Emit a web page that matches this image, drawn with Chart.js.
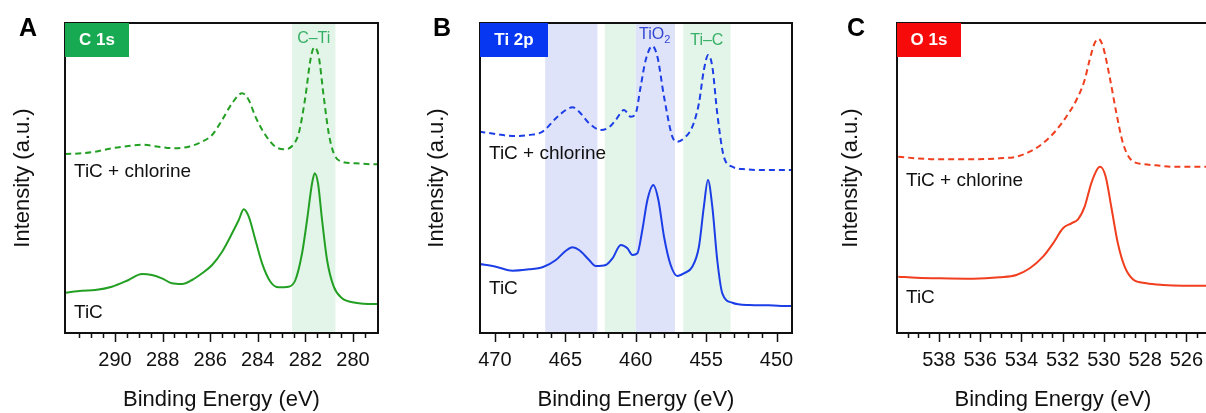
<!DOCTYPE html>
<html>
<head>
<meta charset="utf-8">
<script src="https://cdn.jsdelivr.net/npm/chart.js@4.4.1/dist/chart.umd.min.js"></script>
<style>
  html, body { margin: 0; padding: 0; background: #fff; overflow: hidden; }
  #wrap { position: relative; width: 1206px; height: 413px; overflow: hidden; }
  #wrap canvas { position: absolute; top: 0; }
</style>
</head>
<body>
<div id="wrap">
  <canvas id="c1sChart" width="400" height="413" style="left:0"></canvas>
  <canvas id="ti2pChart" width="400" height="413" style="left:400px"></canvas>
  <canvas id="o1sChart" width="412" height="413" style="left:806px"></canvas>
</div>
<script>
// ---- C 1s ----
const c1sChlorineEnergy = [292.09, 291.39, 290.83, 290.13, 289.43, 288.87, 288.17, 287.47, 286.90, 286.34, 285.92, 285.50, 285.08, 284.66, 284.38, 284.10, 283.68, 283.26, 282.91, 282.56, 282.28, 282.00, 281.79, 281.63, 281.44, 281.23, 281.02, 280.81, 280.46, 279.90, 279.13, 278.98];
const c1sChlorineCounts = [179, 179.7, 181.3, 184.7, 187, 188.3, 186.3, 184.7, 186.3, 191.3, 198, 213, 229.7, 239.7, 233, 216.3, 198, 186.3, 183.7, 187, 199.7, 236.3, 273, 285.7, 276.3, 236.3, 199.7, 179.7, 171.3, 169.7, 168.7, 168.7];
const c1sTicEnergy = [292.09, 291.39, 290.83, 290.13, 289.43, 288.87, 288.45, 288.03, 287.61, 287.18, 286.76, 286.34, 285.92, 285.50, 285.08, 284.80, 284.59, 284.38, 284.10, 283.82, 283.47, 283.12, 282.70, 282.42, 282.14, 281.93, 281.72, 281.61, 281.47, 281.30, 281.09, 280.81, 280.46, 279.90, 279.13, 278.98];
const c1sTicCounts = [40.3, 42.3, 43, 46.3, 53, 59, 58, 54.7, 49.7, 49, 53, 59.7, 68, 81.3, 99.7, 113, 123.7, 116.3, 93, 69.7, 51.3, 45.7, 46.3, 53, 79.7, 113, 149.7, 159.7, 149.7, 113, 73, 46.3, 34.7, 30.3, 29, 29];
const c1sBands = [[282.56, 280.74]];
const c1sRange = [278.95, 292.1];

// ---- Ti 2p ----
const ti2pChlorineEnergy = [471.11, 469.93, 468.75, 467.57, 466.62, 465.67, 464.96, 464.49, 464.02, 463.31, 462.48, 461.89, 461.42, 460.83, 460.35, 460.00, 459.65, 459.29, 458.82, 458.46, 457.99, 457.40, 457.04, 456.57, 455.98, 455.51, 455.16, 454.85, 454.56, 454.21, 453.74, 453.14, 452.20, 451.01, 449.24, 448.95];
const ti2pChlorineCounts = [201.3, 199, 197, 198, 201.3, 214.7, 223, 225.7, 221.3, 209.7, 203, 205.7, 213, 223, 216.3, 219.7, 246.3, 273, 287, 276.3, 236.3, 196.3, 191.3, 194.7, 206.3, 229.7, 263, 278, 266.3, 219.7, 176.3, 166.3, 163.7, 163, 163, 163];
const ti2pTicEnergy = [471.11, 469.93, 468.75, 467.57, 466.62, 465.67, 464.96, 464.49, 464.02, 463.31, 462.84, 462.13, 461.65, 461.06, 460.59, 460.23, 459.88, 459.53, 459.17, 458.75, 458.39, 457.99, 457.52, 457.04, 456.57, 455.98, 455.51, 455.16, 454.87, 454.56, 454.21, 453.85, 453.14, 451.96, 450.55, 449.13, 448.95];
const ti2pTicCounts = [69, 66.3, 62.3, 63.7, 65.7, 73, 82.3, 85.7, 83, 73, 67, 68, 74.7, 88, 84.7, 78, 79.7, 103, 133, 148, 133, 96.3, 68, 57, 59.7, 66.3, 86.3, 126.3, 153, 126.3, 73, 39.7, 30.3, 28, 27.7, 27, 27];
const ti2pBands = [[466.43, 462.72], [462.2, 460.0], [460.0, 457.21], [456.62, 453.26]];
const ti2pRange = [448.9, 471.06];

// ---- O 1s ----
const o1sChlorineEnergy = [539.97, 539.08, 537.95, 536.34, 535.05, 534.24, 533.59, 532.95, 532.30, 531.82, 531.33, 530.93, 530.69, 530.45, 530.25, 530.04, 529.72, 529.39, 529.07, 528.67, 528.11, 527.46, 526.65, 525.84, 525.12, 524.7];
const o1sChlorineCounts = [176.3, 174.7, 173.7, 173.7, 174.7, 176.3, 181.3, 189.7, 203, 216.3, 233, 253, 273, 289.7, 294, 286.3, 256.3, 219.7, 189.7, 173, 169, 167.7, 166.3, 166.3, 166.3, 166.3];
const o1sTicEnergy = [539.97, 539.08, 537.95, 536.34, 535.05, 534.24, 533.59, 532.95, 532.46, 531.98, 531.57, 531.25, 530.93, 530.61, 530.29, 530.17, 529.91, 529.64, 529.32, 528.99, 528.59, 527.94, 527.14, 526.17, 525.12, 524.7];
const o1sTicCounts = [56.3, 55.3, 54.7, 54.3, 55.7, 58, 64.7, 76.3, 89.7, 104.7, 109.7, 113.7, 126.3, 149.7, 164.7, 166.3, 156.3, 126.3, 89.7, 66.3, 53.7, 49.7, 48, 47.3, 47.3, 47.3];
const o1sRange = [524.9, 540.03];

const seriesNames = ['TiC + chlorine', 'TiC'];

const FONT = '"Liberation Sans", Arial, Helvetica, sans-serif';

function toPoints(xs, ys) {
    return xs.map((x, i) => ({ x: x, y: ys[i] }));
}

// ticks every `step`, leaving out any that would sit on the frame
function tickValues(min, max, step) {
    const out = [];
    const margin = step * 0.3;
    for (let v = Math.ceil(min / step) * step; v <= max + 1e-9; v += step) {
        const r = Math.round(v * 100) / 100;
        if (r - min > margin && max - r > margin) out.push(r);
    }
    return out;
}

// bands behind the spectra, frame/ticks/labels on top
const decor = {
    id: 'xpsDecor',
    beforeDatasetsDraw(chart, args, o) {
        const { ctx, chartArea: a, scales: { x } } = chart;
        ctx.save();
        (o.bands || []).forEach((b, i) => {
            const x1 = x.getPixelForValue(b[0]);
            const x2 = x.getPixelForValue(b[1]);
            ctx.fillStyle = o.bandColors[i];
            ctx.fillRect(Math.min(x1, x2), a.top, Math.abs(x2 - x1), a.bottom - a.top);
        });
        ctx.restore();
    },
    afterDraw(chart, args, o) {
        const { ctx, chartArea: a, scales: { x } } = chart;
        ctx.save();

        // frame
        ctx.strokeStyle = '#111';
        ctx.lineWidth = 2;
        ctx.strokeRect(a.left, a.top, a.right - a.left, a.bottom - a.top);

        // tick marks, longer on labelled ticks
        ctx.lineWidth = 1.5;
        x.ticks.forEach(t => {
            const px = Math.round(x.getPixelForValue(t.value)) + 0.5;
            const len = t.label !== '' ? 9 : 5;
            ctx.beginPath();
            ctx.moveTo(px, a.bottom);
            ctx.lineTo(px, a.bottom + len);
            ctx.stroke();
        });

        // spectrum tag box
        ctx.fillStyle = o.tagColor;
        ctx.fillRect(a.left, a.top, o.tagWidth, 34);
        ctx.fillStyle = '#fff';
        ctx.font = 'bold 17px ' + FONT;
        ctx.textAlign = 'center';
        ctx.textBaseline = 'middle';
        ctx.fillText(o.tag, a.left + o.tagWidth / 2, a.top + 17);

        // panel letter
        ctx.fillStyle = '#000';
        ctx.font = 'bold 25px ' + FONT;
        ctx.textAlign = 'center';
        ctx.textBaseline = 'alphabetic';
        ctx.fillText(o.letter, o.letterX, 36);

        // series names
        ctx.fillStyle = '#111';
        ctx.font = '19px ' + FONT;
        ctx.textAlign = 'left';
        seriesNames.forEach((name, i) => {
            ctx.fillText(name, a.left + 9, o.nameY[i]);
        });

        // peak notes
        (o.notes || []).forEach(n => {
            const cx = x.getPixelForValue(n.at);
            ctx.fillStyle = n.color;
            ctx.font = '16px ' + FONT;
            ctx.textAlign = 'left';
            const w = ctx.measureText(n.text).width;
            let sw = 0;
            if (n.sub) {
                ctx.font = '11px ' + FONT;
                sw = ctx.measureText(n.sub).width;
            }
            const left = cx - (w + sw) / 2;
            ctx.font = '16px ' + FONT;
            ctx.fillText(n.text, left, n.y);
            if (n.sub) {
                ctx.font = '11px ' + FONT;
                ctx.fillText(n.sub, left + w, n.y + 4);
            }
        });

        ctx.restore();
    }
};

function buildPanel(id, p) {
    const ctx = document.getElementById(id).getContext('2d');
    const lineBase = {
        borderColor: p.color,
        borderWidth: 2,
        pointRadius: 0,
        fill: false,
        cubicInterpolationMode: 'monotone'
    };
    return new Chart(ctx, {
        type: 'line',
        data: {
            datasets: [
                Object.assign({ label: seriesNames[0], data: toPoints(p.dashedX, p.dashedY), borderDash: [6, 4] }, lineBase),
                Object.assign({ label: seriesNames[1], data: toPoints(p.solidX, p.solidY) }, lineBase)
            ]
        },
        options: {
            responsive: false,
            animation: false,
            devicePixelRatio: 1,
            layout: { padding: { top: 23, right: p.padRight, bottom: 0, left: 0 } },
            plugins: {
                legend: { display: false },
                tooltip: { enabled: false },
                xpsDecor: p.decor
            },
            scales: {
                x: {
                    type: 'linear',
                    reverse: true,
                    min: p.range[0],
                    max: p.range[1],
                    afterFit: s => { s.height = 80; },
                    afterBuildTicks: s => {
                        s.ticks = tickValues(p.range[0], p.range[1], p.minorStep).map(v => ({ value: v }));
                    },
                    grid: { display: false, drawTicks: false },
                    border: { display: false },
                    ticks: {
                        autoSkip: false,
                        maxRotation: 0,
                        padding: 15,
                        color: '#111',
                        font: { family: FONT, size: 20 },
                        callback: v => (Math.abs(v / p.majorStep - Math.round(v / p.majorStep)) < 1e-6 ? String(v) : '')
                    },
                    title: {
                        display: true,
                        text: 'Binding Energy (eV)',
                        color: '#111',
                        font: { family: FONT, size: 22 },
                        padding: { top: 0, bottom: 0 }
                    }
                },
                y: {
                    min: 0,
                    max: 310,
                    afterFit: s => { s.width = p.leftWidth; },
                    ticks: { display: false },
                    grid: { display: false, drawTicks: false },
                    border: { display: false },
                    title: {
                        display: true,
                        text: 'Intensity (a.u.)',
                        color: '#111',
                        font: { family: FONT, size: 22 },
                        padding: { top: p.titlePad, bottom: 0 }
                    }
                }
            }
        },
        plugins: [decor]
    });
}

buildPanel('c1sChart', {
    color: '#23a024',
    dashedX: c1sChlorineEnergy, dashedY: c1sChlorineCounts,
    solidX: c1sTicEnergy, solidY: c1sTicCounts,
    range: c1sRange, minorStep: 0.5, majorStep: 2,
    leftWidth: 65, padRight: 22, titlePad: 10,
    decor: {
        letter: 'A', letterX: 28,
        tag: 'C 1s', tagColor: '#17aa52', tagWidth: 64,
        bands: c1sBands, bandColors: ['#e3f5e9'],
        nameY: [177, 318],
        notes: [{ text: 'C\u2013Ti', at: 281.65, y: 43, color: '#36b064' }]
    }
});

buildPanel('ti2pChart', {
    color: '#1c3ee6',
    dashedX: ti2pChlorineEnergy, dashedY: ti2pChlorineCounts,
    solidX: ti2pTicEnergy, solidY: ti2pTicCounts,
    range: ti2pRange, minorStep: 1, majorStep: 5,
    leftWidth: 80, padRight: 8, titlePad: 24,
    decor: {
        letter: 'B', letterX: 42,
        tag: 'Ti 2p', tagColor: '#0737f0', tagWidth: 68,
        bands: ti2pBands, bandColors: ['#dfe3f9', '#e3f5e9', '#dfe3f9', '#e3f5e9'],
        nameY: [159, 294],
        notes: [
            { text: 'TiO', sub: '2', at: 458.65, y: 39, color: '#3346d4' },
            { text: 'Ti\u2013C', at: 454.95, y: 45, color: '#36b064' }
        ]
    }
});

buildPanel('o1sChart', {
    color: '#f03e1f',
    dashedX: o1sChlorineEnergy, dashedY: o1sChlorineCounts,
    solidX: o1sTicEnergy, solidY: o1sTicCounts,
    range: o1sRange, minorStep: 0.5, majorStep: 2,
    leftWidth: 91, padRight: 9, titlePad: 32,
    decor: {
        letter: 'C', letterX: 50,
        tag: 'O 1s', tagColor: '#f70a0a', tagWidth: 64,
        bands: [], bandColors: [],
        nameY: [186, 303],
        notes: []
    }
});
</script>
</body>
</html>
